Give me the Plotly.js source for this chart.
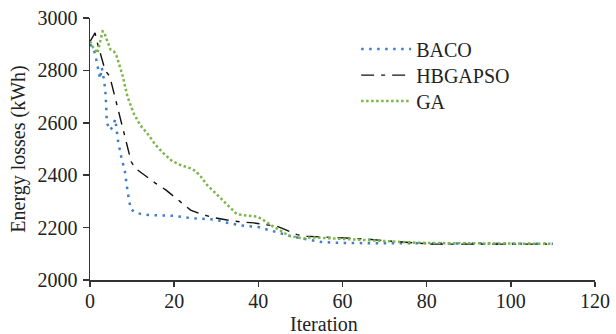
<!DOCTYPE html>
<html>
<head>
<meta charset="utf-8">
<script src="https://cdn.plot.ly/plotly-3.0.1.min.js"></script>
<style>html,body{margin:0;padding:0;background:#fff;}#chart{width:616px;height:334px;}</style>
</head>
<body>
<div id="chart"></div>
<script>
const xTicks = [0, 20, 40, 60, 80, 100, 120];
const yTicks = [2000, 2200, 2400, 2600, 2800, 3000];

const bacoX = [0, 0.8, 1.35, 1.6, 2.0, 2.4, 2.8, 3.2, 3.6, 3.8, 4.0, 4.8, 5.5, 6.0, 6.3, 6.7, 7.4, 8.3, 9.0, 9.7, 11, 14, 20, 24, 30, 32, 36, 40, 44, 48, 52, 55, 60, 70, 80, 90, 100, 110];
const bacoY = [2900, 2885, 2853, 2828, 2800, 2768, 2810, 2775, 2730, 2680, 2600, 2572, 2588, 2614, 2580, 2527, 2472, 2414, 2330, 2270, 2255, 2248, 2245, 2236, 2230, 2220, 2208, 2202, 2184, 2166, 2154, 2145, 2141, 2140, 2139, 2138, 2138, 2138];

const hbX = [0, 1.2, 1.75, 2.9, 3.6, 4.7, 6.1, 7.1, 8.1, 9.2, 9.8, 10.8, 13.2, 15.6, 18, 21.5, 23.9, 26.3, 29.4, 32.6, 35.7, 38.9, 42, 44.4, 46, 49.2, 51.5, 57, 60, 65, 70, 75, 78, 81, 110];
const hbY = [2910, 2943, 2905, 2841, 2800, 2777, 2688, 2624, 2560, 2496, 2451, 2426, 2397, 2369, 2344, 2299, 2267, 2252, 2238, 2229, 2222, 2218, 2212, 2205, 2195, 2173, 2167, 2163, 2162, 2157, 2150, 2144, 2140, 2137, 2137];

const gaX = [0, 0.57, 1.75, 2.4, 2.8, 3.0, 3.4, 3.8, 4.9, 5.7, 6.3, 6.9, 7.7, 8.9, 10.4, 12, 13.6, 15.6, 17.5, 19.5, 21.5, 23.9, 25.1, 26.3, 27.8, 29.4, 31, 32.6, 33.8, 34.9, 37.3, 39.7, 40.9, 42.9, 45.2, 47.2, 49.2, 50.8, 52.6, 55, 58, 62, 66, 70, 74, 78, 82, 110];
const gaY = [2911, 2892, 2866, 2905, 2930, 2949, 2946, 2925, 2879, 2872, 2856, 2828, 2783, 2700, 2635, 2590, 2560, 2515, 2483, 2454, 2439, 2426, 2416, 2395, 2363, 2338, 2312, 2286, 2265, 2251, 2246, 2242, 2232, 2210, 2189, 2169, 2163, 2158, 2163, 2161, 2157, 2154, 2150, 2147, 2144, 2142, 2141, 2138];

const font = 'Liberation Serif, Times New Roman, serif';
const txt = '#222';
const fs = 20;

const traces = [
  {x: bacoX, y: bacoY, name: 'BACO', mode: 'lines', type: 'scatter', legend: 'legend',
   line: {color: '#3f7fca', width: 2.5, dash: '2.5px,5.5px'}},
  {x: hbX, y: hbY, name: 'HBGAPSO', mode: 'lines', type: 'scatter', legend: 'legend2',
   line: {color: '#111111', width: 1.4, dash: '13px,7px,4px,7px'}},
  {x: gaX, y: gaY, name: 'GA', mode: 'lines', type: 'scatter', legend: 'legend3',
   line: {color: '#7ab648', width: 2.5, dash: '2.5px,2.5px'}}
];

function leg(y) {
  return {x: 0.527, y: y, xanchor: 'left', yanchor: 'middle', bgcolor: 'rgba(0,0,0,0)',
          borderwidth: 0, itemwidth: 50, font: {family: font, size: fs, color: txt}};
}

const layout = {
  width: 616, height: 334,
  margin: {l: 90, r: 21, t: 18, b: 54},
  paper_bgcolor: '#fff', plot_bgcolor: '#fff',
  font: {family: font, size: fs, color: txt},
  showlegend: true,
  legend: leg(0.882),
  legend2: leg(0.782),
  legend3: leg(0.683),
  xaxis: {range: [0, 120], tickvals: xTicks, ticktext: xTicks.map(String),
          showgrid: false, zeroline: false, showline: true, linecolor: '#333', linewidth: 1.5,
          ticks: 'outside', ticklen: 5, tickcolor: '#333', tickwidth: 1.5, ticklabelstandoff: -3,
          tickfont: {family: font, size: fs, color: txt}},
  yaxis: {range: [2000, 3000], tickvals: yTicks, ticktext: yTicks.map(String),
          showgrid: false, zeroline: false, showline: true, linecolor: '#333', linewidth: 1.5,
          ticks: 'outside', ticklen: 6, tickcolor: '#333', tickwidth: 1.5, ticklabelstandoff: 1,
          tickfont: {family: font, size: fs, color: txt},
          title: {text: 'Energy losses (kWh)', font: {family: font, size: fs, color: txt}, standoff: 6}},
  annotations: [
    {text: 'Iteration', xref: 'paper', yref: 'paper', x: 0.463, y: -0.168,
     xanchor: 'center', yanchor: 'middle', showarrow: false,
     font: {family: font, size: fs, color: txt}}
  ]
};

Plotly.newPlot('chart', traces, layout, {displayModeBar: false, staticPlot: true});
</script>
</body>
</html>
